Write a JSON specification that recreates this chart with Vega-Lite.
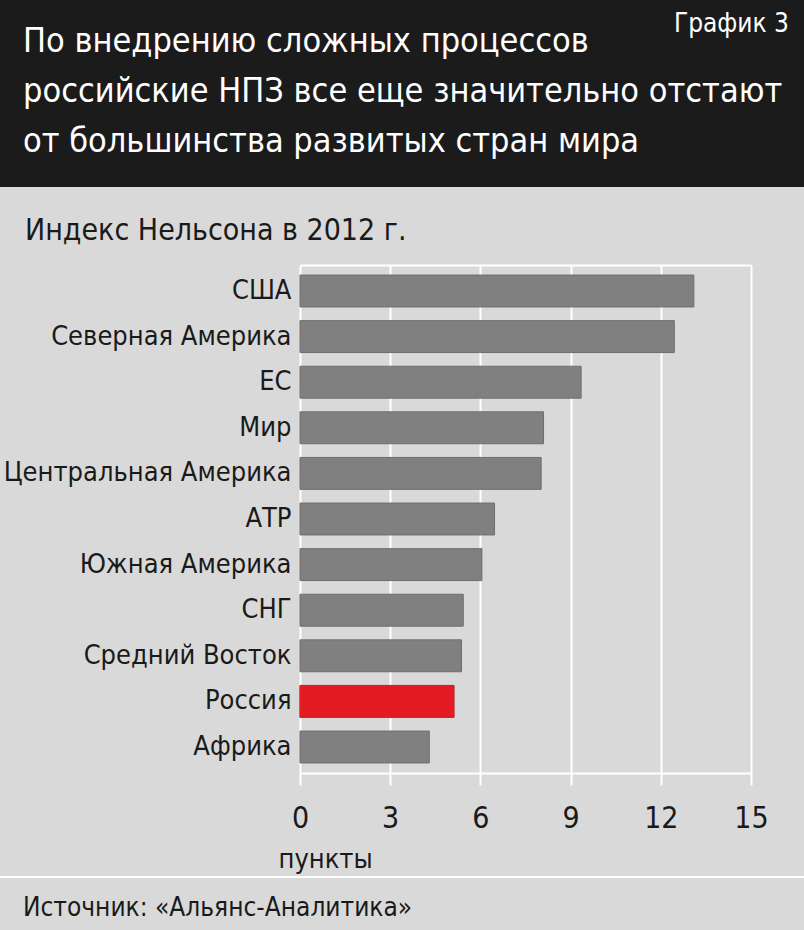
{
  "$schema": "https://vega.github.io/schema/vega-lite/v6.json",
  "background": "#d9d9d9",
  "padding": {"left": 0, "top": 0, "right": 0, "bottom": 10},
  "spacing": 29,
  "title": {
    "text": "График 3",
    "orient": "top",
    "anchor": "end",
    "frame": "bounds",
    "offset": -37,
    "dx": -15,
    "baseline": "top",
    "font": "DejaVu Sans Condensed, sans-serif",
    "fontSize": 26,
    "fontWeight": "normal",
    "color": "#ffffff"
  },
  "config": {
    "view": {"stroke": null},
    "font": "DejaVu Sans Condensed, sans-serif"
  },
  "vconcat": [
    {
      "width": 804,
      "height": 187,
      "data": {"values": [{"part": "header"}]},
      "mark": {"type": "rect", "color": "#1b1b1b"},
      "title": {
        "text": ["По внедрению сложных процессов", "российские НПЗ все еще значительно отстают", "от большинства развитых стран мира"],
        "orient": "bottom",
        "anchor": "start",
        "frame": "group",
        "offset": -162,
        "dx": 23,
        "baseline": "top",
        "lineHeight": 50,
        "font": "DejaVu Sans Condensed, sans-serif",
        "fontSize": 34,
        "fontWeight": "normal",
        "color": "#ffffff"
      }
    },
    {
      "spacing": 4,
      "vconcat": [
        {
          "width": 804,
          "height": 508,
          "data": {
            "values": [
              {"region": "США", "value": 13.1},
              {"region": "Северная Америка", "value": 12.45},
              {"region": "ЕС", "value": 9.35},
              {"region": "Мир", "value": 8.1},
              {"region": "Центральная Америка", "value": 8.02},
              {"region": "АТР", "value": 6.47},
              {"region": "Южная Америка", "value": 6.05},
              {"region": "СНГ", "value": 5.43},
              {"region": "Средний Восток", "value": 5.37},
              {"region": "Россия", "value": 5.12},
              {"region": "Африка", "value": 4.3}
            ]
          },
          "title": {
            "text": "Индекс Нельсона в 2012 г.",
            "orient": "top",
            "anchor": "start",
            "frame": "group",
            "offset": 19,
            "dx": 25,
            "baseline": "top",
            "font": "DejaVu Sans Condensed, sans-serif",
            "fontSize": 30,
            "fontWeight": "normal",
            "color": "#1a1a1a"
          },
          "encoding": {
            "y": {
              "field": "region",
              "type": "nominal",
              "sort": null,
              "scale": {"paddingInner": 0.3, "paddingOuter": 0.22},
              "axis": {
                "title": null,
                "domain": false,
                "ticks": false,
                "grid": false,
                "offset": -300,
                "labelFontSize": 27,
                "labelColor": "#1a1a1a",
                "labelPadding": 9,
                "labelLimit": 300
              }
            }
          },
          "layer": [
            {
              "mark": {"type": "bar", "stroke": "#6e6e6e", "strokeWidth": 1},
              "encoding": {
                "x": {
                  "field": "value",
                  "type": "quantitative",
                  "scale": {"domain": [0, 15], "range": [300, 751], "nice": false, "zero": true},
                  "axis": {
                    "orient": "bottom",
                    "values": [0, 3, 6, 9, 12, 15],
                    "grid": true,
                    "gridColor": "#ffffff",
                    "gridWidth": 2,
                    "gridOpacity": 1,
                    "domainColor": "#ffffff",
                    "domainWidth": 2,
                    "tickColor": "#ffffff",
                    "tickWidth": 2,
                    "tickSize": 12,
                    "labelFontSize": 30,
                    "labelColor": "#1a1a1a",
                    "labelPadding": 18,
                    "labelFlush": false,
                    "title": "пункты",
                    "titleFontSize": 27,
                    "titleFontWeight": "normal",
                    "titleColor": "#1a1a1a",
                    "titleAnchor": "start",
                    "titleAlign": "left",
                    "titleX": 278,
                    "titlePadding": 13
                  }
                },
                "color": {
                  "condition": {"test": "datum.region === 'Россия'", "value": "#e31b23"},
                  "value": "#808080"
                }
              }
            },
            {
              "transform": [{"filter": "datum.region === 'Россия'"}],
              "mark": {"type": "bar", "stroke": "#e31b23", "strokeWidth": 1, "color": "#e31b23"},
              "encoding": {
                "x": {
                  "field": "value",
                  "type": "quantitative",
                  "scale": {"domain": [0, 15], "range": [300, 751], "nice": false, "zero": true},
                  "axis": {
                    "orient": "top",
                    "grid": false,
                    "ticks": false,
                    "labels": false,
                    "title": null,
                    "domainColor": "#ffffff",
                    "domainWidth": 2
                  }
                }
              }
            }
          ],
          "resolve": {"axis": {"x": "independent"}}
        },
        {
          "width": 804,
          "height": 2,
          "data": {"values": [{"part": "footer"}]},
          "mark": {"type": "rect", "color": "#ffffff"},
          "title": {
            "text": "Источник: «Альянс-Аналитика»",
            "orient": "bottom",
            "anchor": "start",
            "frame": "group",
            "offset": 17,
            "dx": 23,
            "baseline": "top",
            "font": "DejaVu Sans Condensed, sans-serif",
            "fontSize": 26,
            "fontWeight": "normal",
            "color": "#1a1a1a"
          }
        }
      ]
    }
  ]
}
